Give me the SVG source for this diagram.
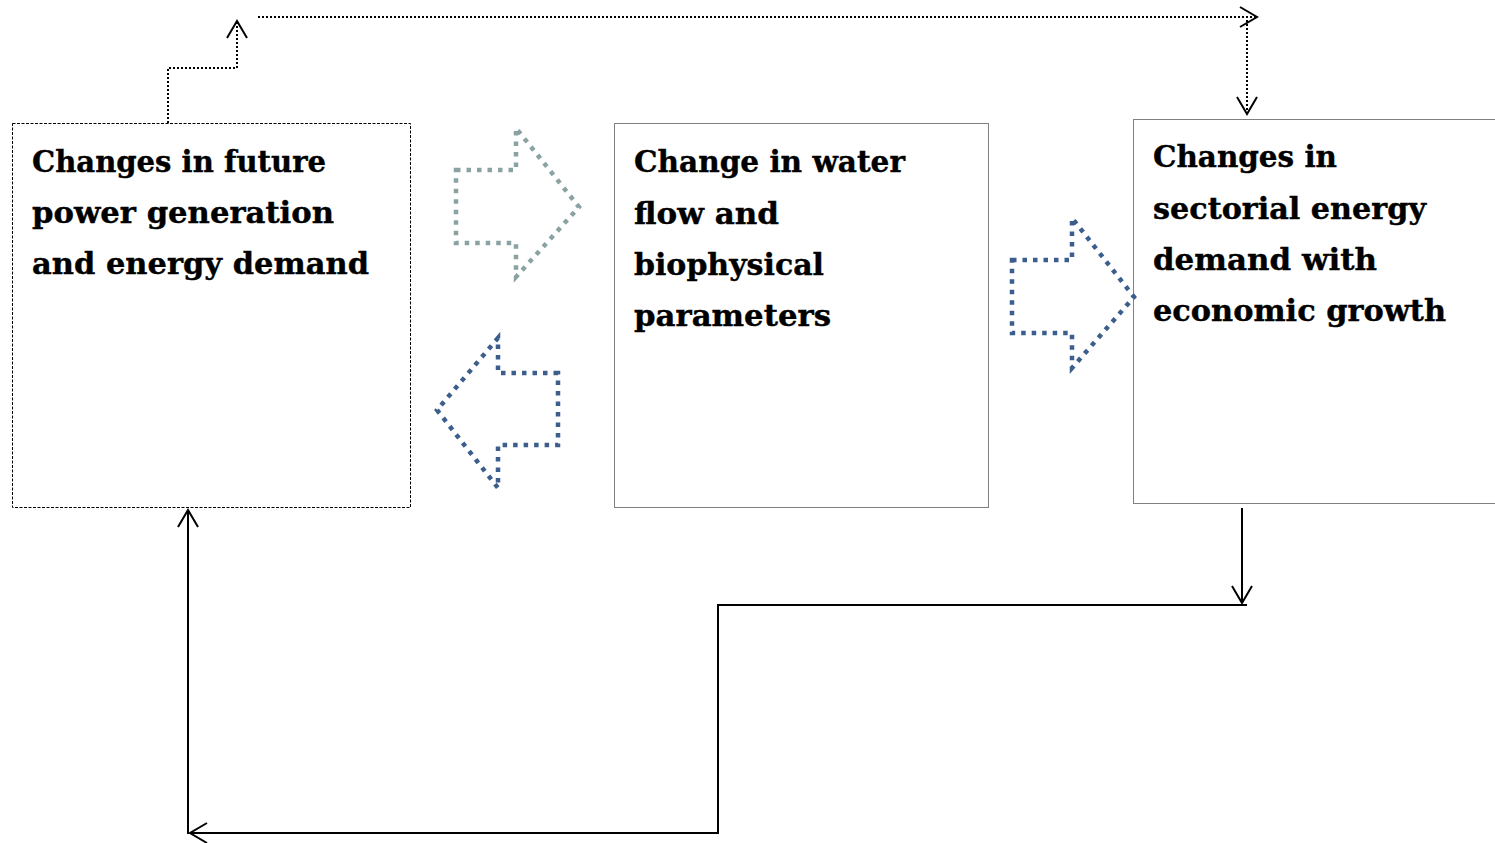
<svg xmlns="http://www.w3.org/2000/svg" width="1495" height="843" viewBox="0 0 1495 843">
  <style>
    .box-dash { fill: #ffffff; stroke: #000000; stroke-width: 1; stroke-dasharray: 3 1.5; }
    .box-dot { fill: #ffffff; stroke: #000000; stroke-width: 1; stroke-dasharray: 1 1; }
    .label { font-family: "DejaVu Serif", "Liberation Serif", serif; font-weight: bold; font-size: 30px; fill: #000000; stroke: #000000; stroke-width: 0.4; }
    .link-dot { fill: none; stroke: #000000; stroke-width: 2; stroke-dasharray: 2 2; }
    .link-solid { fill: none; stroke: #000000; stroke-width: 2; }
    .block-gray { fill: none; stroke: #8aa2a2; stroke-width: 4.5; stroke-dasharray: 4.5 6; }
    .block-blue { fill: none; stroke: #3b5e8c; stroke-width: 4.5; stroke-dasharray: 4.5 6; }
  </style>
  <defs>
    <marker id="open-head" viewBox="-19 -11 21 22" refX="0" refY="0" markerWidth="21" markerHeight="22" markerUnits="userSpaceOnUse" orient="auto" overflow="visible">
      <path d="M-17,-10 L0,0 L-17,10" fill="none" stroke="#000000" stroke-width="2"/>
    </marker>
  </defs>

  <rect width="1495" height="843" fill="#ffffff"/>

  <!-- nodes -->
  <g id="node-power">
    <rect class="box-dash" x="12.5" y="123.5" width="398" height="384"/>
    <text class="label">
      <tspan x="32" y="172" textLength="294" lengthAdjust="spacingAndGlyphs">Changes in future</tspan>
      <tspan x="32" y="223" textLength="302" lengthAdjust="spacingAndGlyphs">power generation</tspan>
      <tspan x="32" y="274" textLength="337" lengthAdjust="spacingAndGlyphs">and energy demand</tspan>
    </text>
  </g>

  <g id="node-water">
    <rect class="box-dot" x="614.5" y="123.5" width="374" height="384"/>
    <text class="label">
      <tspan x="634" y="172" textLength="271" lengthAdjust="spacingAndGlyphs">Change in water</tspan>
      <tspan x="634" y="223.5" textLength="145" lengthAdjust="spacingAndGlyphs">flow and</tspan>
      <tspan x="634" y="275" textLength="190" lengthAdjust="spacingAndGlyphs">biophysical</tspan>
      <tspan x="634" y="326" textLength="197" lengthAdjust="spacingAndGlyphs">parameters</tspan>
    </text>
  </g>

  <g id="node-sectorial">
    <rect class="box-dot" x="1133.5" y="119.5" width="370" height="384"/>
    <text class="label">
      <tspan x="1153" y="167" textLength="184" lengthAdjust="spacingAndGlyphs">Changes in</tspan>
      <tspan x="1153" y="218.5" textLength="273" lengthAdjust="spacingAndGlyphs">sectorial energy</tspan>
      <tspan x="1153" y="270" textLength="224" lengthAdjust="spacingAndGlyphs">demand with</tspan>
      <tspan x="1153" y="321" textLength="293" lengthAdjust="spacingAndGlyphs">economic growth</tspan>
    </text>
  </g>

  <!-- block arrows between the boxes -->
  <g id="block-arrows">
    <polygon class="block-gray" points="456,170 516,170 516,128 579,207 516,277 516,243 456,243"/>
    <polygon class="block-blue" points="558,373 498,373 498,338 437,410 498,488 498,445 558,445"/>
    <polygon class="block-blue" points="1012,260 1072,260 1072,218 1134,297 1072,368 1072,333 1012,333"/>
  </g>

  <!-- connectors -->
  <g id="connectors">
    <path class="link-dot" d="M168,123 V68 H237 V21" marker-end="url(#open-head)"/>
    <path class="link-dot" d="M258,17 H1257" marker-end="url(#open-head)"/>
    <path class="link-dot" d="M1247,20 V114" marker-end="url(#open-head)"/>
    <path class="link-solid" d="M1242,508 V603" marker-end="url(#open-head)"/>
    <path class="link-solid" d="M1247,605 H718 V833 H190" marker-end="url(#open-head)"/>
    <path class="link-solid" d="M188,834 V510" marker-end="url(#open-head)"/>
  </g>
</svg>
